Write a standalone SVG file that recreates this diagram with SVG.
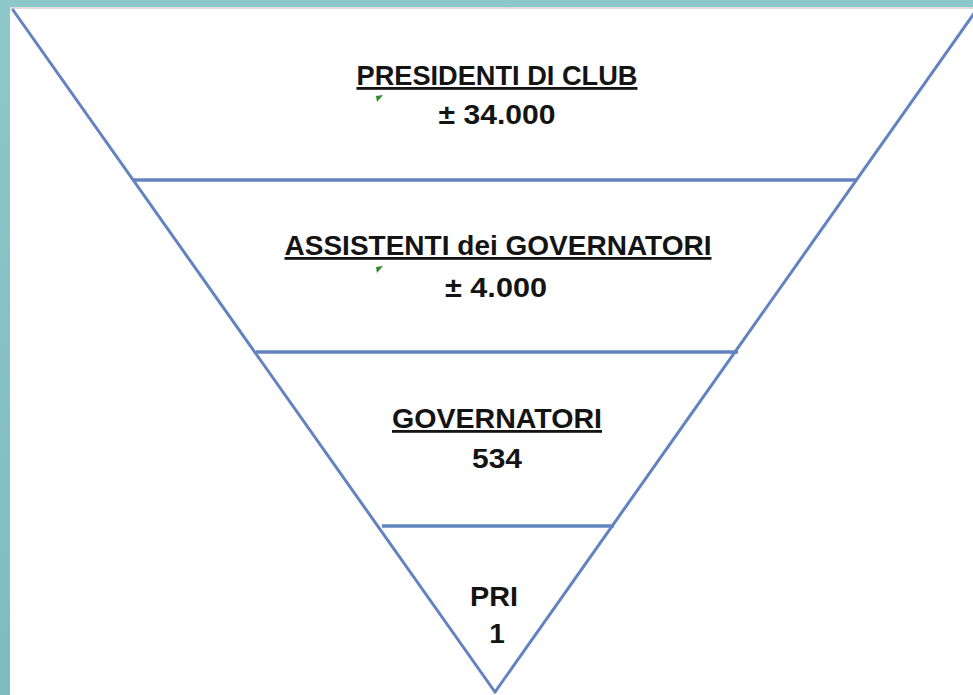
<svg xmlns="http://www.w3.org/2000/svg" width="973" height="695" viewBox="0 0 973 695">
  <defs>
    <linearGradient id="bg" x1="0" y1="0" x2="0" y2="1">
      <stop offset="0" stop-color="#8cc7c9"/>
      <stop offset="1" stop-color="#7fbcc0"/>
    </linearGradient>
    <style>
      .edge { stroke: #6283c0; stroke-width: 3; fill: none; stroke-linecap: round; }
      .tier { stroke: #6283c0; stroke-width: 3.5; fill: none; }
      .lbl { font-family: "Liberation Sans", Arial, sans-serif; font-weight: bold; font-size: 28px; fill: #141414; text-anchor: middle; }
      .u { text-decoration: underline; }
      .mark { fill: #2e8b2e; }
    </style>
  </defs>
  <rect x="0" y="0" width="973" height="695" fill="url(#bg)"/>
  <rect x="10" y="7" width="963" height="688" fill="#ffffff"/>
  <line x1="10" y1="8" x2="973" y2="8" stroke="#dddddd" stroke-width="2"/>

  <g id="connectors">
    <line class="edge" x1="13" y1="10" x2="495" y2="692"/>
    <line class="edge" x1="495" y1="692" x2="975" y2="12"/>
  </g>

  <g id="tier1">
    <line class="tier" x1="133" y1="180" x2="856" y2="180"/>
    <text class="lbl u" x="497" y="85" textLength="281" lengthAdjust="spacingAndGlyphs">PRESIDENTI DI CLUB</text>
    <polygon class="mark" points="376,96 383,95 377,102"/>
    <text class="lbl" x="497" y="124" textLength="117" lengthAdjust="spacingAndGlyphs">± 34.000</text>
  </g>

  <g id="tier2">
    <line class="tier" x1="256" y1="352" x2="738" y2="352"/>
    <text class="lbl u" x="498" y="255" textLength="427" lengthAdjust="spacingAndGlyphs">ASSISTENTI dei GOVERNATORI</text>
    <polygon class="mark" points="376,267 383,266 377,273"/>
    <text class="lbl" x="496" y="297" textLength="102" lengthAdjust="spacingAndGlyphs">± 4.000</text>
  </g>

  <g id="tier3">
    <line class="tier" x1="382" y1="526" x2="614" y2="526"/>
    <text class="lbl u" x="497" y="428" textLength="210" lengthAdjust="spacingAndGlyphs">GOVERNATORI</text>
    <text class="lbl" x="497" y="468" textLength="50" lengthAdjust="spacingAndGlyphs">534</text>
  </g>

  <g id="tier4">
    <text class="lbl" x="494" y="606" textLength="48" lengthAdjust="spacingAndGlyphs">PRI</text>
    <text class="lbl" x="497" y="643">1</text>
  </g>
</svg>
